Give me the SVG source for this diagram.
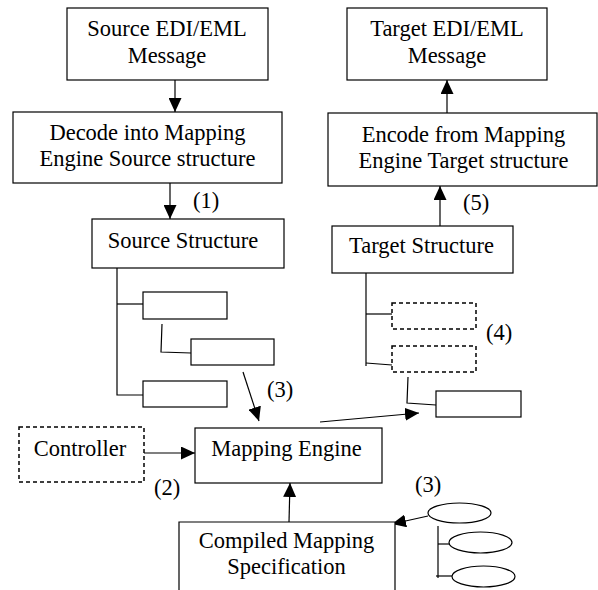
<svg xmlns="http://www.w3.org/2000/svg" width="598" height="590" viewBox="0 0 598 590" font-family="'Liberation Serif', 'Times New Roman', Tinos, 'DejaVu Serif', serif">
<style>
.b{fill:#fff;stroke:#000;stroke-width:1.2}
.d{fill:#fff;stroke:#000;stroke-width:1.5;stroke-dasharray:4,3}
.l{fill:none;stroke:#000;stroke-width:1.2}
.a{fill:none;stroke:#000;stroke-width:1.2;marker-end:url(#ah)}
text{font-family:'Liberation Serif','Times New Roman',Tinos,'DejaVu Serif',serif;font-size:22.5px;fill:#000}
.c{text-anchor:middle}
</style>
<defs>
<marker id="ah" markerUnits="userSpaceOnUse" markerWidth="15" markerHeight="13" refX="14" refY="6.5" orient="auto">
<path d="M0,0 L14,6.5 L0,13 z" fill="#000"/>
</marker>
</defs>
<rect width="598" height="590" fill="#fff"/>
<g id="connectors">
<line class="a" x1="175" y1="80" x2="175" y2="112"/>
<line class="a" x1="170" y1="183" x2="170" y2="219"/>
<line class="a" x1="447" y1="113" x2="447" y2="80"/>
<line class="a" x1="440" y1="226" x2="440" y2="186"/>
<line class="a" x1="243" y1="372" x2="259" y2="421"/>
<line class="a" x1="144" y1="453" x2="195" y2="453"/>
<line class="a" x1="289" y1="522" x2="290" y2="483"/>
<line class="a" x1="320" y1="422" x2="419" y2="413"/>
<line class="a" x1="428" y1="516" x2="392" y2="524"/>
<polyline class="l" points="117,268 117,395 143,395"/>
<line class="l" x1="117" y1="304" x2="143" y2="304"/>
<polyline class="l" points="162,324 161,352 191,353"/>
<polyline class="l" points="366,273 366,366"/>
<line class="l" x1="366" y1="314" x2="392" y2="314"/>
<line class="l" x1="366" y1="363" x2="392" y2="365"/>
<polyline class="l" points="408,377 407,403 436,405"/>
<polyline class="l" points="438,526 438,578"/>
<line class="l" x1="438" y1="544" x2="449" y2="544"/>
<line class="l" x1="436" y1="576" x2="452" y2="576"/>
</g>
<g id="source-msg"><rect class="b" x="67" y="8" width="201" height="72"/><text class="c" x="167" y="36">Source EDI/EML</text><text class="c" x="167" y="63">Message</text></g>
<g id="decode"><rect class="b" x="13" y="112" width="269" height="71"/><text class="c" x="147.5" y="140">Decode into Mapping</text><text class="c" x="147.5" y="166">Engine Source structure</text></g>
<g id="source-structure"><rect class="b" x="92" y="219" width="192" height="49"/><text class="c" x="183" y="248">Source Structure</text></g>
<g id="src-child1"><rect class="b" x="143" y="292" width="84" height="27"/></g>
<g id="src-child2"><rect class="b" x="191" y="339" width="83" height="26"/></g>
<g id="src-child3"><rect class="b" x="143" y="381" width="84" height="26"/></g>
<g id="target-msg"><rect class="b" x="347" y="8" width="200" height="72"/><text class="c" x="447" y="36">Target EDI/EML</text><text class="c" x="447" y="63">Message</text></g>
<g id="encode"><rect class="b" x="328" y="113" width="269" height="73"/><text class="c" x="463.5" y="142">Encode from Mapping</text><text class="c" x="463.5" y="168">Engine Target structure</text></g>
<g id="target-structure"><rect class="b" x="332" y="226" width="181" height="47"/><text class="c" x="421.5" y="253">Target Structure</text></g>
<g id="tgt-child1"><rect class="d" x="392" y="303" width="84" height="26"/></g>
<g id="tgt-child2"><rect class="d" x="392" y="346" width="84" height="26"/></g>
<g id="tgt-child3"><rect class="b" x="436" y="391" width="85" height="26"/></g>
<g id="controller"><rect class="d" x="19" y="427" width="125" height="55"/><text class="c" x="80" y="456">Controller</text></g>
<g id="mapping-engine"><rect class="b" x="195" y="428" width="187" height="55"/><text class="c" x="286.5" y="456">Mapping Engine</text></g>
<g id="compiled"><polyline class="b" points="179,590 179,522 395,522 395,590"/><text class="c" x="286.5" y="548">Compiled Mapping</text><text class="c" x="286.5" y="574">Specification</text></g>
<g id="spec1"><ellipse class="b" cx="459.5" cy="513" rx="31.5" ry="10"/></g>
<g id="spec2"><ellipse class="b" cx="480.5" cy="542.5" rx="31.5" ry="10.5"/></g>
<g id="spec3"><ellipse class="b" cx="483.5" cy="576.5" rx="31.5" ry="10.5"/></g>
<g id="labels">
<text x="193" y="208">(1)</text>
<text x="463" y="210">(5)</text>
<text x="267" y="397">(3)</text>
<text x="154" y="495">(2)</text>
<text x="486" y="340">(4)</text>
<text x="415" y="492">(3)</text>
</g>
</svg>
